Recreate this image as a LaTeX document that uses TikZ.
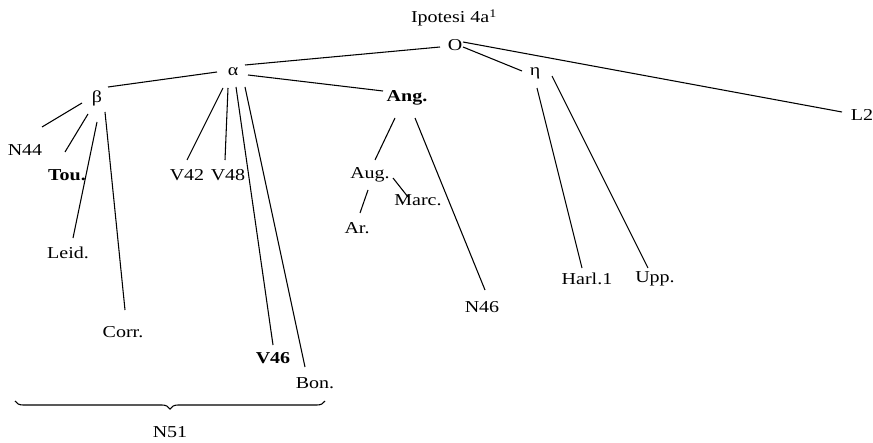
\documentclass[tikz,border=0pt]{standalone}
\usepackage{fontspec}
\setmainfont{Liberation Serif}[FakeStretch=1.2]
\usetikzlibrary{calc,decorations.pathreplacing}
\tikzset{ms/.style={inner sep=1pt, font=\fontsize{12.5}{15}\selectfont},
  branch/.style={line width=0.8pt}}

\begin{document}
\begin{tikzpicture}[x=0.75pt,y=-0.75pt]
\useasboundingbox (0,0) rectangle (873,442);

%Archetype and subarchetypes
\node[ms] (title) at (454,18) {Ipotesi 4a\textsuperscript{1}};
\node[ms] (O) at (455,45) {O};
\node[ms] (alpha) at (233,72) {α};
\node[ms] (eta) at (535,73) {η};
\node[ms] (beta) at (97,98) {β};
\node[ms] (Ang) at (407,98) {\textbf{Ang.}};
\node[ms] (Aug) at (370,175) {Aug.};

% Manuscripts
\node[ms] (L2) at (862,115) {L2};
\node[ms] (N44) at (25,150) {N44};
\node[ms] (Tou) at (67,175) {\textbf{Tou.}};
\node[ms] (Leid) at (68,253) {Leid.};
\node[ms] (Corr) at (123,332) {Corr.};
\node[ms] (V42) at (187,175) {V42};
\node[ms] (V48) at (228,175) {V48};
\node[ms] (V46) at (273,358) {\textbf{V46}};
\node[ms] (Bon) at (315,383) {Bon.};
\node[ms] (Marc) at (418,200) {Marc.};
\node[ms] (Ar) at (357,228) {Ar.};
\node[ms] (N46) at (482,307) {N46};
\node[ms] (Harl) at (587,279) {Harl.1};
\node[ms] (Upp) at (655,279) {Upp.};

%Branches from O
\draw[branch] ($(O)+(-15,2)$) -- ($(alpha)+(12,-7)$);
\draw[branch] ($(O)+(8,2)$) -- ($(eta)+(-13,-2)$);
\draw[branch] ($(O)+(8,-3)$) -- ($(L2)+(-20,-3)$);

%Branches from alpha
\draw[branch] ($(alpha)+(-16,0)$) -- ($(beta)+(11,-11)$);
\draw[branch] ($(alpha)+(15,3)$) -- ($(Ang)+(-24,-7)$);
\draw[branch] ($(alpha)+(-10,16)$) -- ($(V42)+(0,-15)$);
\draw[branch] ($(alpha)+(-5,16)$) -- ($(V48)+(-3,-15)$);
\draw[branch] ($(alpha)+(3,15)$) -- ($(V46)+(0,-13)$);
\draw[branch] ($(alpha)+(12,15)$) -- ($(Bon)+(-10,-16)$);

%Branches from beta
\draw[branch] ($(beta)+(-15,5)$) -- ($(N44)+(17,-23)$);
\draw[branch] ($(beta)+(-9,16)$) -- ($(Tou)+(-2,-23)$);
\draw[branch] ($(beta)+(0,24)$) -- ($(Leid)+(5,-15)$);
\draw[branch] ($(beta)+(8,14)$) -- ($(Corr)+(2,-22)$);

%Branches from Ang. and Aug.
\draw[branch] ($(Ang)+(-12,20)$) -- ($(Aug)+(5,-15)$);
\draw[branch] ($(Ang)+(8,20)$) -- ($(N46)+(3,-17)$);
\draw[branch] ($(Aug)+(23,3)$) -- ($(Marc)+(-10,-3)$);
\draw[branch] ($(Aug)+(-2,15)$) -- ($(Ar)+(3,-15)$);

%Branches from eta
\draw[branch] ($(eta)+(2,15)$) -- ($(Harl)+(-5,-11)$);
\draw[branch] ($(eta)+(17,3)$) -- ($(Upp)+(-7,-11)$);

%Group brace
\draw[branch, decorate, decoration={brace, mirror, amplitude=6pt}] (15,401) -- (325,401);
\node[ms] (N51) at (170,432) {N51};

\end{tikzpicture}
\end{document}
